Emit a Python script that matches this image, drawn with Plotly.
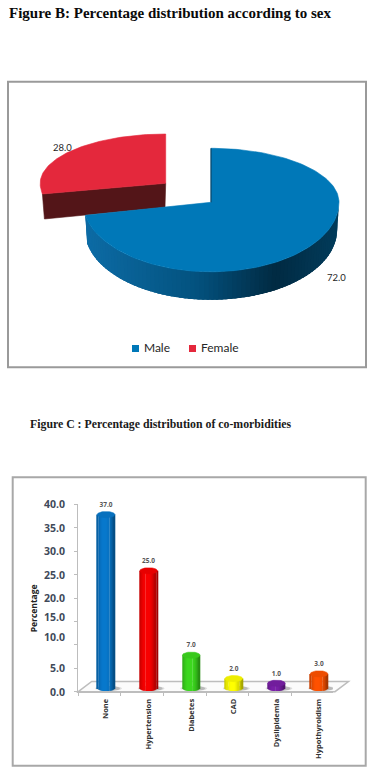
import numpy as np
import plotly.graph_objects as go

# ---------- data ----------
sex_labels = ["Male", "Female"]
sex_values = [72.0, 28.0]
sex_colors = ["#0078B8", "#E4283C"]

comorb_labels = ["None", "Hypertension", "Diabetes", "CAD", "Dyslipidemia", "Hypothyroidism"]
comorb_values = [37.0, 25.0, 7.0, 2.0, 1.0, 3.0]
comorb_colors = ["#0878CC", "#F80000", "#3CD81E", "#FFFF00", "#7A1FA8", "#FF5200"]
y_ticks = [0, 5, 10, 15, 20, 25, 30, 35, 40]
y_label_shift = {10: 7.7, 15: 4.3}

W, H = 374, 775
fig = go.Figure()


def hex2rgb(h):
    return np.array([int(h[i:i + 2], 16) for i in (1, 3, 5)], dtype=float)


def rgb(c):
    return "rgb(%d,%d,%d)" % tuple(np.clip(np.round(c), 0, 255))


def poly(xs, ys, color, xa="x", ya="y", lw=0.6):
    fig.add_trace(go.Scatter(x=xs, y=ys, mode="lines", fill="toself", fillcolor=color,
                             line=dict(width=lw, color=color), xaxis=xa, yaxis=ya,
                             showlegend=False, hoverinfo="skip"))


# ---------- perspective pie ----------
def rim(t, ax, ay, rx, rt, rb):
    s, c = np.sin(t), np.cos(t)
    return ax + rx * s, ay - np.where(c > 0, rt, rb) * c


male_end = np.deg2rad(sex_values[0] / sum(sex_values) * 360)
M = dict(ax=211.0, ay=202.3, rx=128.0, rt=54.0, rb=69.5)
F = dict(ax=165.7, ay=183.3, rx=125.5, rt=49.3, rb=57.0)
M_DEPTH, F_DEPTH = 28.0, 24.0

# female slice: wall along the cut radius, then the top face
ex, ey = rim(male_end, **F)
poly([float(ex), F["ax"], 165.0, float(ex) + 2, float(ex)],
     [float(ey), F["ay"], F["ay"] + F_DEPTH, float(ey) + F_DEPTH + 1, float(ey)],
     "#531518")
t = np.linspace(male_end, 2 * np.pi, 70)
fx, fy = rim(t, **F)
poly(np.r_[F["ax"], fx, F["ax"]], np.r_[F["ay"], fy, F["ay"]], sex_colors[1])

# male slice: shaded outer wall, overlapping strips so no seams show
stops = [(0.0, "#0D6CA6"), (0.45, "#03527F"), (0.76, "#012A42"), (1.0, "#023C5B")]
edges = np.linspace(np.pi / 2, male_end, 81)
step = edges[1] - edges[0]
for a in edges[:-1]:
    tt = np.linspace(a, min(a + 2.5 * step, male_end), 5)
    x1, y1 = rim(tt, **M)
    x2 = M["ax"] + (x1 - M["ax"]) * 0.985
    frac = (x1[0] - (M["ax"] - M["rx"])) / (2 * M["rx"])
    c = np.array([np.interp(frac, [s[0] for s in stops], [hex2rgb(s[1])[i] for s in stops]) for i in range(3)])
    poly(np.r_[x1, x2[::-1]], np.r_[y1, (y1 + M_DEPTH)[::-1]], rgb(c), lw=0)
t = np.linspace(0, male_end, 160)
mx, my = rim(t, **M)
poly(np.r_[M["ax"], mx, M["ax"]], np.r_[M["ay"], my, M["ay"]], sex_colors[0])
fig.add_trace(go.Scatter(x=[float(mx[0]), M["ax"]], y=[float(my[0]), M["ay"]], mode="lines",
                         line=dict(color="#0B3A58", width=1), showlegend=False, hoverinfo="skip"))

# legend built from the pie's names and colours
for name, color, lx in zip(sex_labels, sex_colors, [135.5, 192.5]):
    fig.add_trace(go.Scatter(x=[lx], y=[348.5], mode="markers+text", text=[" " + name],
                             textposition="middle right", cliponaxis=False,
                             textfont=dict(family="Lato", size=12, color="#262626"),
                             marker=dict(symbol="square", size=7, color=color),
                             showlegend=False, hoverinfo="skip"))

# ---------- column chart ----------
PX_L, PX_R = 78.3, 333.0
PX_0, PX_40 = 691.7, 504.3
CAT0, CAT_STEP = 106.0, 42.6
x_range = [(PX_L - CAT0) / CAT_STEP, (PX_R - CAT0) / CAT_STEP]
cats = np.arange(len(comorb_values), dtype=float)
UNIT = (PX_0 - PX_40) / 40.0
FLOOR = 0.8
HALF = 8.8 / CAT_STEP
RY = 3.1 / UNIT

# soft shadows on the floor (lower layer)
th = np.linspace(0, 2 * np.pi, 50)
for c in cats:
    for rx, alpha in [(13.5, 0.18), (11.5, 0.28)]:
        poly(c + 0.06 + (rx / CAT_STEP) * np.cos(th), FLOOR - 0.1 + (2.6 / UNIT) * np.sin(th),
             "rgba(95,95,95,%.2f)" % alpha, "x2", "y2", lw=0)

# cylinders: side-by-side shaded strips, then caps
N = 16
u_edges = np.linspace(-1, 1, N + 1)
base_rgb = [hex2rgb(c) for c in comorb_colors]
values = np.array(comorb_values)
for k in range(N):
    u = 0.5 * (u_edges[k] + u_edges[k + 1])
    shade = 0.56 + 0.46 * max(np.cos((u + 0.12) * np.pi / 2.3), 0.0) ** 0.8
    drop = RY * np.sqrt(max(1 - u * u, 0))
    fig.add_trace(go.Bar(x=cats, y=values + drop, base=[FLOOR - drop] * len(cats),
                         width=[(2 * HALF / N) * 1.12] * len(cats),
                         offset=[u_edges[k] * HALF] * len(cats),
                         marker=dict(color=[rgb(b * min(shade, 1.0)) for b in base_rgb], line=dict(width=0)),
                         xaxis="x3", yaxis="y3", showlegend=False, hoverinfo="skip"))
for c, v, b in zip(cats, comorb_values, base_rgb):
    poly(c + HALF * np.cos(th), FLOOR + v + RY * np.sin(th), rgb(b * 0.93), "x3", "y3")

fig.add_trace(go.Scatter(x=cats, y=values + FLOOR + 1.3, mode="text",
                         text=["%.1f" % v for v in comorb_values], textposition="top center",
                         textfont=dict(family="Open Sans", size=6.5, color="#555555", weight="bold"),
                         xaxis="x3", yaxis="y3", showlegend=False, hoverinfo="skip", cliponaxis=False))

# ---------- annotations ----------
ann = []
ann.append(dict(text="Figure B: Percentage distribution according to sex", x=7, y=13, xref="x", yref="y",
                xanchor="left", yanchor="middle", showarrow=False,
                font=dict(family="Liberation Serif", size=15, color="#0A0A0A", weight="bold")))
ann.append(dict(text="Figure C : Percentage distribution of co-morbidities", x=28, y=423.5, xref="x", yref="y",
                xanchor="left", yanchor="middle", showarrow=False,
                font=dict(family="Liberation Serif", size=11.8, color="#1A1A1A", weight="bold")))
for v, lx, ly in zip(sex_values, [336, 62], [277.3, 147.5]):
    ann.append(dict(text="%.1f" % v, x=lx, y=ly, xref="x", yref="y", showarrow=False,
                    font=dict(family="Lato", size=9.5, color="#262626")))
for tk in y_ticks:
    ann.append(dict(text="%.1f" % tk, x=67 / W, y=tk, xref="paper", yref="y2", xanchor="right",
                    yshift=y_label_shift.get(tk, 0), showarrow=False,
                    font=dict(family="Open Sans", size=10.5, color="#3F4A5A", weight="bold")))
ann.append(dict(text="Percentage", x=33.3, y=608, xref="x", yref="y", textangle=-90, showarrow=False,
                font=dict(family="Open Sans", size=8.5, color="#222222", weight="bold")))

# ---------- layout ----------
shapes = [
    dict(type="rect", x0=8, x1=366, y0=81.7, y1=367.3, xref="x", yref="y",
         line=dict(color="#9A9A9A", width=2), fillcolor="white", layer="below"),
    dict(type="rect", x0=12.7, x1=365.7, y0=477.3, y1=765.7, xref="x", yref="y",
         line=dict(color="#A8A8A8", width=2), fillcolor="white", layer="below"),
    dict(type="path", path="M 78.3 691.7 L 91.7 681.5 L 348.5 681.5 L 335 691.7 Z", xref="x", yref="y",
         line=dict(color="#BDBDBD", width=1.5), fillcolor="#FBFBFB", layer="below"),
]
hidden = dict(visible=False, fixedrange=True)
fig.update_layout(
    width=W, height=H, margin=dict(l=0, r=0, t=0, b=0), autosize=False,
    paper_bgcolor="white", plot_bgcolor="rgba(0,0,0,0)", barmode="overlay", hovermode=False,
    showlegend=False, shapes=shapes, annotations=ann,
    xaxis=dict(range=[0, W], domain=[0, 1], **hidden),
    yaxis=dict(range=[H, 0], domain=[0, 1], **hidden),
    xaxis2=dict(range=x_range, domain=[PX_L / W, PX_R / W], anchor="y2", showgrid=False, zeroline=False,
                showline=True, linecolor="#BDBDBD", linewidth=1.2,
                tickmode="array", tickvals=list(cats), ticktext=comorb_labels, tickangle=-90, ticks="",
                ticklen=0, ticklabelstandoff=3,
                tickfont=dict(family="Open Sans", size=7.5, color="#333333", weight="bold"),
                minor=dict(tickmode="array", tickvals=[x_range[0] + i for i in range(7)], ticks="outside",
                           ticklen=3, tickcolor="#BDBDBD", showgrid=False),
                fixedrange=True),
    yaxis2=dict(range=[0, 40], domain=[1 - PX_0 / H, 1 - PX_40 / H], anchor="x2", showgrid=False, zeroline=False,
                showline=True, linecolor="#BDBDBD", linewidth=1.2, tickmode="array", tickvals=y_ticks,
                ticktext=[""] * len(y_ticks), ticks="outside", ticklen=3, tickcolor="#BDBDBD", fixedrange=True),
    xaxis3=dict(range=x_range, domain=[PX_L / W, PX_R / W], anchor="y3", **hidden),
    yaxis3=dict(range=[0, 40], domain=[1 - PX_0 / H, 1 - PX_40 / H], anchor="x3", **hidden),
)
fig.write_html("out.html", config=dict(displayModeBar=False),
               post_script="document.body.style.margin='0';document.documentElement.style.overflow='hidden';")
